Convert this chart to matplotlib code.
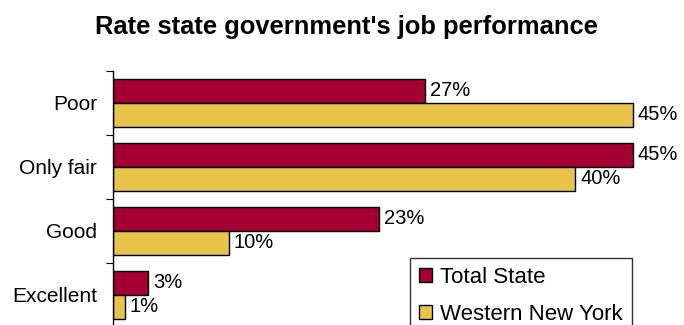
import matplotlib.pyplot as plt
from matplotlib.patches import Patch
import numpy as np

plt.rcParams['font.family'] = ['Liberation Sans', 'DejaVu Sans']

categories = ["Poor", "Only fair", "Good", "Excellent"]
total_state = [27, 45, 23, 3]
western_ny = [45, 40, 10, 1]
series_names = ["Total State", "Western New York"]

red = "#A50034"
yellow = "#E8C44A"

fig = plt.figure(figsize=(6.84, 3.25), dpi=100)
ax = fig.add_axes([113 / 684, -2 / 325, 566 / 684, 256 / 325])

y = np.arange(len(categories))
h = 0.375
ax.barh(y - h / 2, total_state, height=h, color=red, edgecolor="black", linewidth=1)
ax.barh(y + h / 2, western_ny, height=h, color=yellow, edgecolor="black", linewidth=1)

for yi, v in zip(y, total_state):
    ax.text(v + 0.45, yi - h / 2, f"{v}%", va="center", ha="left", fontsize=14.5)
for yi, v in zip(y, western_ny):
    ax.text(v + 0.45, yi + h / 2, f"{v}%", va="center", ha="left", fontsize=14.5)

ax.set_xlim(0, 49)
ax.set_ylim(3.5, -0.5)
ax.set_yticks(np.arange(len(categories)) - 0.5)
ax.set_yticklabels([])
ax.set_yticks(y, minor=True)
ax.set_yticklabels(categories, minor=True, fontsize=15)
ax.tick_params(axis="y", which="major", length=5, color="black")
ax.tick_params(axis="y", which="minor", length=0, pad=11.5)
ax.set_xticks([])
for s in ["top", "right", "bottom"]:
    ax.spines[s].set_visible(False)
ax.spines["left"].set_linewidth(1)

fig.text(346 / 684, 1 - 34 / 325, "Rate state government's job performance",
         ha="center", va="baseline", fontsize=18.4, fontweight="bold")

handles = [Patch(facecolor=red, edgecolor="black"), Patch(facecolor=yellow, edgecolor="black")]
leg = fig.legend(handles, series_names, loc="upper left", bbox_to_anchor=(410 / 684, 1 - 258 / 325),
                 fontsize=16, frameon=True, fancybox=False, handlelength=0.6, handleheight=0.6,
                 handletextpad=0.36, labelspacing=0.72, borderpad=0.4, borderaxespad=0)
leg.get_frame().set_edgecolor("black")
leg.get_frame().set_linewidth(1)

fig.savefig("out.png", dpi=100)
